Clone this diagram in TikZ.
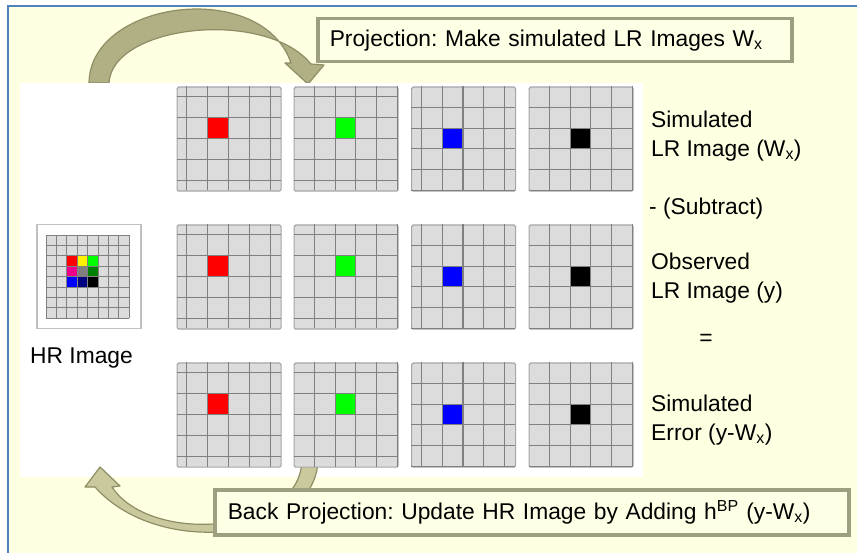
\documentclass[tikz,border=0pt]{standalone}
\usepackage{fontspec}
\setmainfont{Liberation Sans}
\usepackage{xcolor}
\usepackage{tikz}
\usetikzlibrary{shadows}
\frenchspacing

\definecolor{bgyellow}{HTML}{FFFFE1}
\definecolor{frameblue}{HTML}{4F81BD}
\definecolor{cellgray}{HTML}{DCDCDC}
\definecolor{linegray}{HTML}{808080}
\definecolor{edgegray}{HTML}{A6A6A6}
\definecolor{olivefill}{HTML}{B0B084}
\definecolor{olivelight}{HTML}{C9C99D}
\definecolor{oliveline}{HTML}{8E8E66}
\definecolor{boxline}{HTML}{9E9E80}
\definecolor{boxfill}{HTML}{FFFFE6}
\definecolor{hredge}{HTML}{C0C0C0}
\definecolor{limepx}{HTML}{00FF00}
\definecolor{darkgreenpx}{HTML}{008000}
\definecolor{navypx}{HTML}{000080}
\definecolor{graypx}{HTML}{808080}

\newcommand{\lrcell}{10.4}
\newcommand{\hrcell}{10.42}

% LR grid: name, x, y (top left), column shift, row shift, pixel colour
\newcommand{\lrgrid}[6]{%
  \node[lrbox] (#1) at (#2,#3) {};
  \fill[#6] ({#2+(#4+2)*\lrcell},{#3+(#5+2)*\lrcell}) rectangle ++({2*\lrcell},{2*\lrcell});
  \foreach \k in {0,...,4} {
    \draw[gridline] ({#2+(#4+2*\k)*\lrcell},#3) -- ++(0,{10*\lrcell});
    \draw[gridline] (#2,{#3+(#5+2*\k)*\lrcell}) -- ++({10*\lrcell},0);
  }%
}

\begin{document}
\begin{tikzpicture}[
  x=1pt, y=-1pt,
  font=\fontsize{22.8}{28.5}\selectfont,
  lrbox/.style={rectangle, draw=edgegray, fill=cellgray, line width=1.2pt, rounded corners=1.5pt, anchor=north west, minimum size=104pt, inner sep=0pt},
  hrbox/.style={rectangle, draw=hredge, fill=white, line width=1.5pt, anchor=north west, minimum size=104pt, inner sep=0pt},
  gridline/.style={draw=linegray, line width=1.1pt},
  hrline/.style={draw=linegray, line width=0.9pt},
  sidetext/.style={anchor=north west, align=left, inner sep=0pt},
  callout/.style={rectangle, draw=boxline, line width=3.5pt, fill=boxfill, anchor=north west, align=left, inner xsep=12pt, minimum height=43pt, drop shadow={shadow xshift=1.5pt, shadow yshift=-1.5pt, opacity=0.3}},
  bigarrow/.style={draw=oliveline, line width=1.2pt, line join=round}
]
\useasboundingbox (0,0) rectangle (857,553);
\fill[white] (0,0) rectangle (857,553);
\fill[bgyellow] (8,6) rectangle (857,553);
\draw[frameblue, line width=2.5pt] (8,553) -- (8,6) -- (857,6);

% projection arrow
\draw[bigarrow, fill=olivefill]
  (89,83) .. controls (90,0) and (262,-22) .. (291,63)
  -- (285,63) -- (308,84) -- (324,65) -- (311,64)
  .. controls (265,8) and (112,25) .. (109,83) -- cycle;

\fill[white] (20,83) rectangle (643,477);

% back projection arrow
\draw[bigarrow, fill=olivelight]
  (302,460) .. controls (300,535) and (150,545) .. (112,487)
  -- (120,486) -- (100,467) -- (85,487) -- (95,487)
  .. controls (160,560) and (316,540) .. (318,460) -- cycle;

% HR image
\node[hrbox] (hrimg) at (36,224) {};
\fill[cellgray] (46,235) rectangle ++({8*\hrcell},{8*\hrcell});
\foreach \c/\i/\j in {red/2/2, yellow/3/2, limepx/4/2, magenta/2/3, graypx/3/3, darkgreenpx/4/3, blue/2/4, navypx/3/4, black/4/4}
  \fill[\c] ({46+\i*\hrcell},{235+\j*\hrcell}) rectangle ++(\hrcell,\hrcell);
\foreach \k in {0,...,8} {
  \draw[hrline] ({46+\k*\hrcell},235) -- ++(0,{8*\hrcell});
  \draw[hrline] (46,{235+\k*\hrcell}) -- ++({8*\hrcell},0);
}
\node[anchor=base west, inner sep=0pt] (hrlabel) at (30,363) {HR Image};

% LR images
\foreach \rw/\yy in {sim/86.5, obs/224.5, err/362.5} {
  \lrgrid{\rw-red}{176.5}{\yy}{1}{1}{red}
  \lrgrid{\rw-green}{293.5}{\yy}{2}{1}{limepx}
  \lrgrid{\rw-blue}{411}{\yy}{1}{2}{blue}
  \lrgrid{\rw-black}{528.5}{\yy}{2}{2}{black}
}

% right hand texts
\node[sidetext] (simlr) at (651,111) {Simulated\\LR Image (W\textsubscript{x})};
\node[anchor=base west, inner sep=0pt] (subtract) at (649,215) {- (Subtract)};
\node[sidetext] (obslr) at (651,253) {Observed\\LR Image (y)};
\node[inner sep=0pt] (equals) at (706,340) {=};
\node[sidetext] (simerr) at (651,395) {Simulated\\Error (y-W\textsubscript{x})};

% callouts
\node[callout, text width=450pt] (proj) at (316,17) {Projection: Make simulated LR Images W\textsubscript{x}};
\node[callout, text width=608pt, inner xsep=13pt, minimum height=45pt] (backproj) at (213,488) {Back Projection: Update HR Image by Adding h\textsuperscript{BP} (y-W\textsubscript{x})};
\end{tikzpicture}
\end{document}
